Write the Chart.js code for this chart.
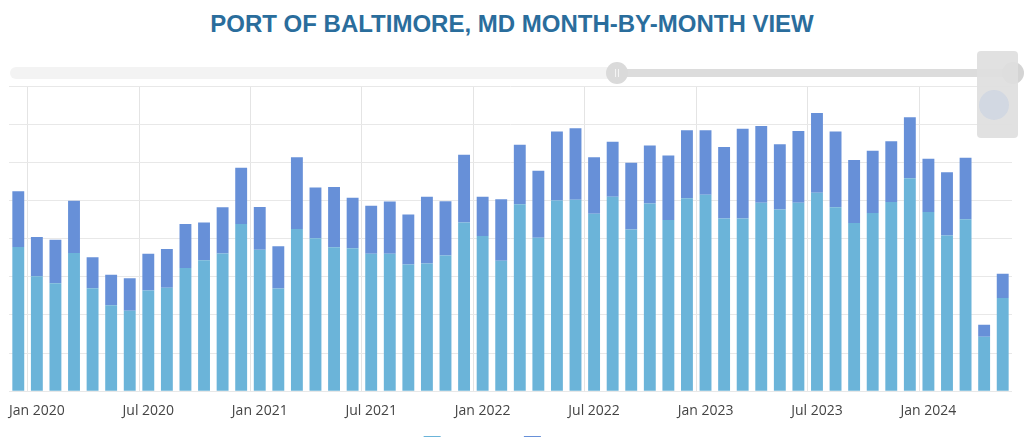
<!DOCTYPE html>
<html>
<head>
<meta charset="utf-8">
<title>Port of Baltimore</title>
<script src="https://cdn.jsdelivr.net/npm/chart.js@4.4.1/dist/chart.umd.min.js"></script>
<style>
  html, body { margin: 0; padding: 0; background: #fff; overflow: hidden; }
  body { width: 1024px; height: 437px; position: relative; }
  #title {
    position: absolute; top: 10px; left: 0; width: 1024px; text-align: center;
    font-family: 'Liberation Sans', Arial, sans-serif; font-weight: bold;
    font-size: 24px; color: #2a6d9c;
  }
  #chart-box { position: absolute; top: 80px; left: 0; width: 1024px; height: 402px; }
  .track { position: absolute; border-radius: 6px; }
  #track-left { left: 10px; top: 67px; width: 608px; height: 12px; background: #f3f3f3; }
  #track-right { left: 618px; top: 69px; width: 400px; height: 8px; background: #dcdcdc; }
  .knob { position: absolute; width: 22px; height: 22px; border-radius: 50%; background: #dadada; }
  #knob-left { left: 606px; top: 62px; }
  #knob-left::before, #knob-left::after {
    content: ''; position: absolute; top: 7px; width: 1px; height: 8px; background: #f4f4f4;
  }
  #knob-left::before { left: 9px; }
  #knob-left::after { left: 12px; }
  #knob-right { left: 1002px; top: 62px; background: #d4d4d4; }
  #panel {
    position: absolute; left: 977px; top: 51px; width: 41px; height: 87px;
    background: rgba(222,222,222,0.92); border-radius: 4px;
  }
  #panel-dot {
    position: absolute; left: 2px; top: 39px; width: 30px; height: 30px;
    border-radius: 50%; background: #d2d8e2;
  }
</style>
</head>
<body>
<div id="title">PORT OF BALTIMORE, MD MONTH-BY-MONTH VIEW</div>
<div id="chart-box"><canvas id="my-chart"></canvas></div>
<div id="track-left" class="track"></div>
<div id="track-right" class="track"></div>
<div id="knob-left" class="knob"></div>
<div id="knob-right" class="knob"></div>
<div id="panel"><div id="panel-dot"></div></div>

<script>
'use strict';

//**************DATA********** */
// months Dec 2019 -> May 2024
let monthNames = ['Jan', 'Feb', 'Mar', 'Apr', 'May', 'Jun', 'Jul', 'Aug', 'Sep', 'Oct', 'Nov', 'Dec'];
let startYear = 2019;
let startMonth = 11; // Dec

let importVals = [
  37.8, 30.1, 28.3, 36.2, 27.0, 22.5, 21.1, 26.4, 27.1, 32.3, 34.3, 36.1,
  43.8, 37.1, 26.9, 42.5, 40.1, 37.7, 37.5, 36.0, 36.0, 33.2, 33.5, 35.6,
  44.2, 40.7, 34.2, 49.0, 40.2, 50.0, 50.2, 46.5, 51.0, 42.4, 49.2, 44.9,
  50.6, 51.5, 45.3, 45.3, 49.4, 47.6, 49.4, 52.0, 48.2, 44.1, 46.7, 49.6,
  55.8, 47.0, 40.8, 45.1, 14.3, 24.4
];

let exportVals = [
  14.6, 10.3, 11.4, 13.7, 8.1, 8.0, 8.5, 9.6, 10.2, 11.5, 9.9, 12.1,
  14.8, 11.2, 11.1, 18.8, 13.3, 15.8, 13.2, 12.6, 13.7, 13.1, 17.5, 14.2,
  17.8, 10.3, 16.1, 15.6, 17.6, 18.1, 18.7, 14.8, 14.4, 17.5, 15.2, 16.9,
  17.8, 16.9, 18.7, 23.5, 20.1, 17.1, 18.8, 20.9, 19.9, 16.5, 16.3, 15.9,
  16.0, 13.9, 16.6, 16.1, 3.1, 6.4
];

let seriesNames = ['Imports', 'Exports'];
let yMax = 80;
let yStep = 10;

//**************BUILD LABELS********** */
let monthLabels = [];
for (let i = 0; i < importVals.length; i++) {
  let m = (startMonth + i) % 12;
  let y = startYear + Math.floor((startMonth + i) / 12);
  monthLabels.push(`${monthNames[m]} ${y}`);
}

// Jan and Jul get a label and a grid line
function isHalfYear(index) {
  let lbl = monthLabels[index];
  if (!lbl) return false;
  return lbl.startsWith('Jan') || lbl.startsWith('Jul');
}

//*************LEGEND NUDGE********* */
// legend sits a bit tighter under the tick labels than chart.js puts it
let legendNudge = {
  id: 'legendNudge',
  afterLayout(chart) {
    chart.legend.top -= 19;
    chart.legend.bottom -= 19;
  }
};

//*************CHART********* */
let ctx = document.getElementById('my-chart');

let chartObj = {
  type: 'bar',
  data: {
    labels: monthLabels,
    datasets: [{
      label: seriesNames[0],
      data: importVals,
      backgroundColor: '#6bb4d9',
      borderWidth: 0,
      categoryPercentage: 1,
      barPercentage: 0.64
    },
    {
      label: seriesNames[1],
      data: exportVals,
      backgroundColor: '#6790d8',
      borderWidth: 0,
      categoryPercentage: 1,
      barPercentage: 0.64
    }]
  },
  options: {
    responsive: true,
    maintainAspectRatio: false,
    animation: false,
    layout: {
      padding: { left: 9, right: 12, top: 6, bottom: 0 }
    },
    plugins: {
      title: { display: false },
      tooltip: { enabled: false },
      legend: {
        position: 'bottom',
        labels: {
          boxWidth: 17,
          boxHeight: 17,
          padding: 25,
          color: '#444',
          font: { family: "'Open Sans'", size: 14 }
        }
      }
    },
    scales: {
      x: {
        stacked: true,
        offset: true,
        border: { display: false },
        grid: {
          offset: true,
          drawTicks: false,
          color: function (c) {
            if (c.index === monthLabels.length) return '#e4e4e4';
            return isHalfYear(c.index) ? '#e4e4e4' : 'rgba(0,0,0,0)';
          }
        },
        ticks: {
          autoSkip: false,
          maxRotation: 0,
          padding: 11,
          color: '#444',
          font: { family: "'Open Sans'", size: 14 },
          callback: function (val, index) {
            return isHalfYear(index) ? monthLabels[index] : '';
          }
        }
      },
      y: {
        stacked: true,
        min: 0,
        max: yMax,
        border: { display: false },
        grid: { color: '#e8e8e8', drawTicks: false },
        ticks: { display: false, stepSize: yStep }
      }
    }
  },
  plugins: [legendNudge]
};

new Chart(ctx, chartObj);
</script>
</body>
</html>
